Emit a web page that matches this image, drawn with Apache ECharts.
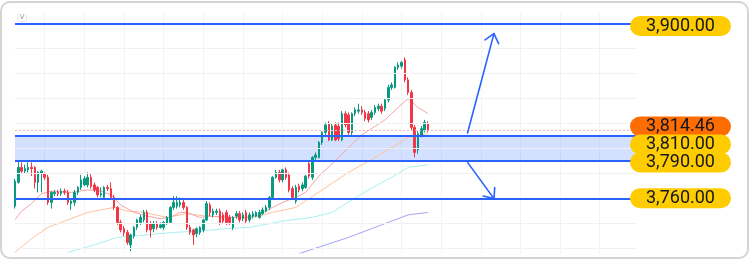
<!DOCTYPE html>
<html>
<head>
<meta charset="utf-8">
<script src="https://cdn.jsdelivr.net/npm/echarts@6/dist/echarts.min.js"></script>
<style>
html,body{margin:0;padding:0;background:#fff;}
#wrap{position:relative;width:750px;height:261px;overflow:hidden;}
#chart{position:absolute;left:0;top:0;width:750px;height:261px;}
#frame{position:absolute;left:0;top:1px;width:749px;height:258px;box-sizing:border-box;border:2px solid #d4d4d4;border-radius:10px;pointer-events:none;}
</style>
</head>
<body>
<div id="wrap"><div id="chart"></div><div id="frame"></div></div>
<script>
// ---- data ----
const totalSlots = 189;
const categories = Array.from({length: totalSlots}, (_, i) => String(i));

const openVals  = [3754,3773,3785,3782,3783,3785,3785,3773,3780,3780,3777,3757,3764,3765,3764,3766,3765,3756,3757,3765,
                   3769,3771,3771,3777,3771,3769,3763,3761,3769,3768,3761,3753,3741,3736,3733,3723,3730,3737,3741,3743,
                   3749,3740,3736,3740,3737,3737,3740,3741,3753,3754,3755,3757,3753,3737,3735,3732,3733,3735,3743,3755,
                   3747,3749,3750,3747,3749,3745,3737,3746,3748,3744,3749,3743,3746,3746,3745,3748,3750,3753,3761,3777,
                   3781,3775,3783,3779,3768,3758,3770,3768,3769,3788,3777,3793,3793,3805,3813,3820,3807,3819,3818,3807,
                   3828,3827,3813,3828,3830,3831,3829,3828,3825,3829,3832,3834,3832,3839,3849,3849,3865,3866,3871,3855,
                   3845,3817,3799,3811,3815,3820];
const closeVals = [3774,3785,3782,3784,3785,3784,3773,3781,3782,3777,3757,3765,3765,3764,3766,3765,3757,3758,3765,3769,
                   3775,3776,3777,3770,3767,3763,3764,3769,3768,3761,3753,3741,3735,3733,3725,3731,3737,3743,3745,3749,
                   3735,3735,3740,3737,3739,3741,3745,3753,3757,3757,3757,3753,3737,3733,3731,3736,3737,3743,3756,3749,
                   3750,3750,3741,3742,3741,3741,3745,3748,3743,3747,3742,3747,3748,3749,3749,3751,3753,3761,3777,3781,
                   3775,3783,3777,3767,3761,3769,3767,3771,3778,3778,3793,3795,3805,3813,3819,3807,3818,3807,3808,3828,
                   3819,3813,3828,3831,3831,3829,3824,3823,3829,3833,3834,3830,3839,3849,3851,3865,3867,3869,3855,3845,
                   3817,3797,3812,3816,3821,3814.46];
const lowVals   = [3752,3772,3780,3780,3781,3778,3768,3765,3765,3775,3755,3752,3762,3762,3762,3763,3755,3751,3754,3763,
                   3767,3770,3769,3768,3765,3761,3761,3759,3766,3760,3751,3739,3733,3730,3723,3718,3728,3735,3739,3741,
                   3733,3729,3733,3735,3736,3735,3739,3740,3751,3752,3753,3751,3735,3731,3723,3729,3731,3733,3742,3746,
                   3745,3747,3739,3740,3739,3739,3735,3744,3741,3742,3740,3741,3744,3745,3744,3747,3749,3751,3760,3776,
                   3773,3773,3775,3765,3759,3756,3765,3766,3768,3776,3775,3791,3792,3803,3811,3806,3806,3806,3806,3806,
                   3817,3811,3811,3826,3828,3827,3822,3821,3823,3827,3830,3828,3830,3837,3847,3848,3863,3864,3853,3843,
                   3815,3793,3796,3809,3813,3813];
const highVals  = [3776,3791,3789,3787,3789,3789,3786,3782,3783,3781,3779,3766,3767,3767,3768,3768,3767,3759,3767,3770,
                   3779,3778,3781,3780,3773,3770,3769,3770,3771,3773,3763,3754,3743,3738,3735,3732,3738,3744,3747,3751,
                   3751,3742,3742,3742,3741,3742,3746,3754,3762,3762,3761,3759,3754,3739,3736,3737,3738,3744,3758,3757,
                   3752,3752,3752,3749,3751,3747,3746,3750,3750,3749,3751,3749,3750,3750,3751,3753,3755,3762,3778,3783,
                   3783,3784,3785,3781,3770,3771,3772,3773,3779,3790,3794,3797,3806,3814,3821,3822,3820,3821,3821,3830,
                   3830,3829,3829,3833,3836,3834,3831,3830,3831,3835,3836,3836,3840,3851,3853,3866,3869,3870,3873,3857,
                   3847,3819,3814,3818,3823,3822];

// moving averages, read at selected candles: [candle index, value]
const maShort = [[0,3743],[2,3750],[5,3756],[8,3764],[11,3766],[17,3765],[22,3767],[26,3766],[29,3763],[32,3755],
                 [36,3749],[40,3746],[44,3744],[47,3745],[50,3749],[52,3749],[56,3745],[59,3746],[65,3745],[70,3745],
                 [74,3747],[78,3753],[81,3757],[85,3761],[88,3765],[92,3778],[98,3793],[105,3811],[112,3823],[116,3833],
                 [119,3840],[120,3838],[122,3833],[125,3828]];
const maMid   = [[0,3717],[5,3728],[10,3737],[16,3743],[22,3749],[26,3751],[30,3753],[34,3750],[39,3749],[46,3745],
                 [52,3748],[58,3746],[66,3745],[71,3745],[74,3746],[78,3749],[85,3753],[93,3767],[101,3781],[109,3793],
                 [116,3804],[119,3809],[125,3812]];
const maLong  = [[16,3717],[24,3723],[31,3729],[40,3731],[48,3733],[56,3734],[64,3736],[71,3737],[81,3742],[90,3745],
                 [96,3749],[102,3759],[107,3767],[114,3777],[119,3785],[125,3787]];
const maXLong = [[86,3716],[101,3729],[111,3739],[119,3747],[125,3749]];

const gridLevels = [3720,3740,3760,3780,3800,3820,3840,3860,3880,3900];
const currentPrice = 3814.46;
const bandTop = 3810, bandBottom = 3790;
const levelTop = 3900, levelBottom = 3760;
// arrows: [startIndex, startPrice, endIndex, endPrice]
const arrowData = [[136.8, 3812.5, 145.3, 3892], [136.8, 3789, 144.5, 3760]];

// ---- chart ----
const candleData = openVals.map((o, i) => [o, closeVals[i], lowVals[i], highVals[i]]);
const fmt = v => v.toLocaleString('en-US', {minimumFractionDigits: 2, maximumFractionDigits: 2});
const BLUE = '#2962ff';
const pill = (bg, dy) => ({
  show: true, position: 'end', distance: 0, offset: [-6, dy],
  formatter: p => fmt(p.value),
  fontFamily: 'Roboto', fontSize: 18, lineHeight: 18, color: '#131722',
  backgroundColor: bg, borderRadius: 10, padding: [1, 16, 1, 16]
});
const blueLine = {color: BLUE, width: 2, type: 'solid'};

const chart = echarts.init(document.getElementById('chart'), null, {renderer: 'canvas'});
chart.setOption({
  animation: false,
  title: {
    text: 'v', left: 17, top: 14,
    textStyle: {fontSize: 7, color: '#888', fontWeight: 'normal', fontFamily: 'DejaVu Sans'},
    borderColor: '#e3e3e3', borderWidth: 1, padding: [0, 3, 1, 3], borderRadius: 1
  },
  grid: {left: 15, right: 114, top: 13, bottom: 8},
  xAxis: {
    type: 'category', data: categories, boundaryGap: false,
    axisLine: {show: false}, axisTick: {show: false}, axisLabel: {show: false},
    splitLine: {show: true, interval: (i) => i % 12 === 9, lineStyle: {color: '#f3f3f3', width: 1}}
  },
  yAxis: {
    type: 'value', min: 3716.5, max: 3908.5, scale: true,
    axisLine: {show: false}, axisTick: {show: false}, axisLabel: {show: false}, splitLine: {show: false}
  },
  series: [
    {
      type: 'line', data: [], z: 1, silent: true,
      markLine: {
        silent: true, symbol: ['none', 'none'], animation: false,
        label: {show: false},
        lineStyle: {color: '#f1f1f1', width: 1, type: 'solid'},
        data: gridLevels.map(v => ({yAxis: v})).concat([{yAxis: 'max'}])
      }
    },
    {type: 'line', data: maXLong, symbol: 'none', silent: true, z: 2, lineStyle: {width: 1, color: '#a3a3f3'}},
    {type: 'line', data: maLong, symbol: 'none', silent: true, z: 2, lineStyle: {width: 1, color: '#a6f1ef'}},
    {type: 'line', data: maMid, symbol: 'none', silent: true, z: 2, lineStyle: {width: 1, color: '#ffc196'}},
    {type: 'line', data: maShort, symbol: 'none', silent: true, z: 2, lineStyle: {width: 1, color: '#f6a3a8'}},
    {
      type: 'candlestick', data: candleData, barWidth: 2, z: 3, silent: true,
      itemStyle: {color: '#089981', color0: '#f23645', borderColor: '#089981', borderColor0: '#f23645', borderWidth: 1}
    },
    {
      type: 'line', data: [], z: 5, silent: true,
      markArea: {
        silent: true, itemStyle: {color: 'rgba(41,98,255,0.2)'},
        data: [[{yAxis: bandTop}, {yAxis: bandBottom}]]
      },
      markLine: {
        silent: true, symbol: ['none', 'none'], animation: false,
        data: [
          {yAxis: levelTop, lineStyle: blueLine, label: pill('#ffcc00', 2.4)},
          {yAxis: levelBottom, lineStyle: blueLine, label: pill('#ffcc00', -0.5)},
          {yAxis: currentPrice, lineStyle: {color: '#f5b3b7', width: 1, type: [2, 2]}, label: pill('#ff6d00', -4)},
          {yAxis: bandTop, lineStyle: blueLine, label: pill('#ffcc00', 8.3)},
          {yAxis: bandBottom, lineStyle: blueLine, label: pill('#ffcc00', 1.3)}
        ]
      }
    },
    {
      type: 'custom', z: 6, silent: true,
      dimensions: [{name: 'x1', type: 'float'}, {name: 'y1', type: 'float'}, {name: 'x2', type: 'float'}, {name: 'y2', type: 'float'}],
      encode: {x: [0, 2], y: [1, 3]},
      data: arrowData,
      renderItem: (params, api) => {
        const a = api.coord([api.value(0), api.value(1)]);
        const b = api.coord([api.value(2), api.value(3)]);
        const ang = Math.atan2(a[1] - b[1], a[0] - b[0]);
        const L = 11, s = 40 * Math.PI / 180;
        const h1 = [b[0] + L * Math.cos(ang + s), b[1] + L * Math.sin(ang + s)];
        const h2 = [b[0] + L * Math.cos(ang - s), b[1] + L * Math.sin(ang - s)];
        const st = {stroke: BLUE, lineWidth: 1.6, fill: null, lineJoin: 'round', lineCap: 'round'};
        return {type: 'group', children: [
          {type: 'polyline', shape: {points: [a, b]}, style: st},
          {type: 'polyline', shape: {points: [h1, b, h2]}, style: st}
        ]};
      }
    }
  ]
});
</script>
</body>
</html>
